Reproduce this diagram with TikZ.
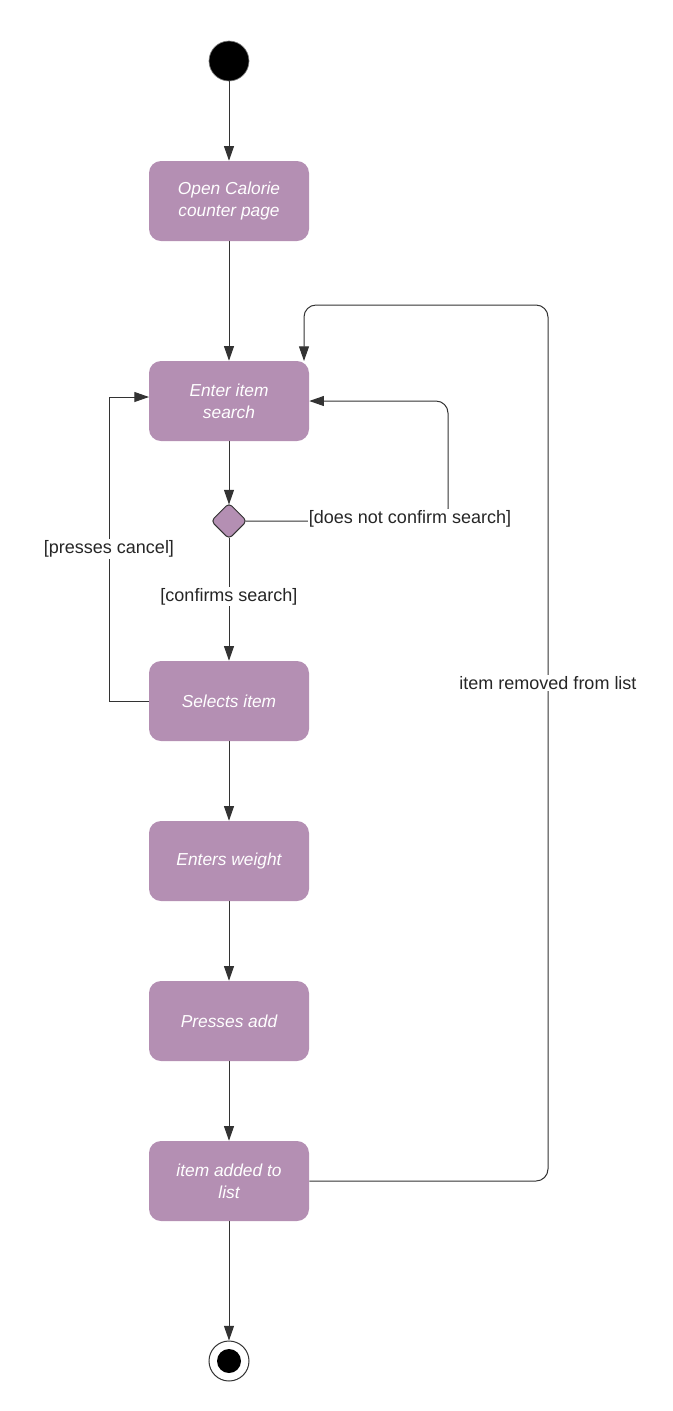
\documentclass[tikz,border=0pt]{standalone}
\usepackage{fontspec}
\setmainfont{Liberation Sans}
\usetikzlibrary{shapes.geometric,arrows.meta}
\definecolor{boxfill}{HTML}{B48FB3}
\definecolor{linec}{HTML}{333333}
\tikzset{
  px/.style={x=0.75pt,y=-0.75pt},
  act/.style={rectangle,rounded corners=9pt,fill=boxfill,draw=none,minimum width=120pt,minimum height=60pt,
    text=white,align=center,font=\fontsize{13}{16.5}\selectfont\itshape,inner sep=0pt},
  dec/.style={diamond,fill=boxfill,draw=linec,line width=0.75pt,rounded corners=3pt,minimum width=27pt,minimum height=27pt,inner sep=0pt},
  conn/.style={draw=linec,line width=0.75pt,-{Triangle[length=11pt,width=7.5pt]}},
  plain/.style={draw=linec,line width=0.75pt},
  lbl/.style={fill=white,text=black!85,font=\fontsize{13.5}{16}\selectfont,inner sep=1pt}
}
\begin{document}
\begin{tikzpicture}[px]
\useasboundingbox (0,0) rectangle (672,1411);
\node[circle,fill=black,draw=black!50,line width=0.5pt,minimum size=30pt,inner sep=0pt] (start) at (229,61) {};
\node[act] (open) at (229,201) {Open Calorie\\counter page};
\node[act] (enter) at (229,401) {Enter item\\search};
\node[dec] (d) at (229,521) {};
\node[act] (sel) at (229,701) {Selects item};
\node[act] (wt) at (229,861) {Enters weight};
\node[act] (add) at (229,1021) {Presses add};
\node[act] (list) at (229,1181) {item added to\\list};
\node[circle,draw=linec,line width=0.75pt,fill=white,minimum size=30pt,inner sep=0pt] (stop) at (229,1361) {};
\node[circle,fill=black,minimum size=18pt,inner sep=0pt] (stopin) at (229,1361) {};

\coordinate (dE) at ([xshift=-1.5pt]d.east);
\coordinate (dN) at ([yshift=-1.5pt]d.north);
\coordinate (dS) at ([yshift=1.5pt]d.south);
\coordinate (c1) at (448,521);
\coordinate (c2) at (448,401);
\coordinate (p1) at (109,701);
\coordinate (p2) at (109,397);
\coordinate (e2) at (149,397);
\coordinate (r1) at (548,1181);
\coordinate (r2) at (548,305);
\coordinate (r3) at (304,305);
\coordinate (r4) at (304,361);

\draw[conn] (start) -- (open);
\draw[conn] (open) -- (enter);
\draw[conn] (enter) -- (dN);
\draw[conn] (dS) -- node[lbl,pos=0.48] {[confirms search]} (sel);
\draw[conn,rounded corners=9pt] (dE) -- (c1) -- (c2) -- (enter.east);
\node[lbl] (lb1) at (410,519) {[does not confirm search]};
\draw[conn,rounded corners=0pt] (sel.west) -- (p1) -- node[lbl,pos=0.5] {[presses cancel]} (p2) -- (e2);
\draw[conn] (sel) -- (wt);
\draw[conn] (wt) -- (add);
\draw[conn] (add) -- (list);
\draw[conn] (list) -- (stop);
\draw[conn,rounded corners=9pt] (list.east) -- (r1) -- (r2) -- (r3) -- (r4);
\node[lbl] (lb3) at (548,683) {item removed from list};
\end{tikzpicture}
\end{document}
